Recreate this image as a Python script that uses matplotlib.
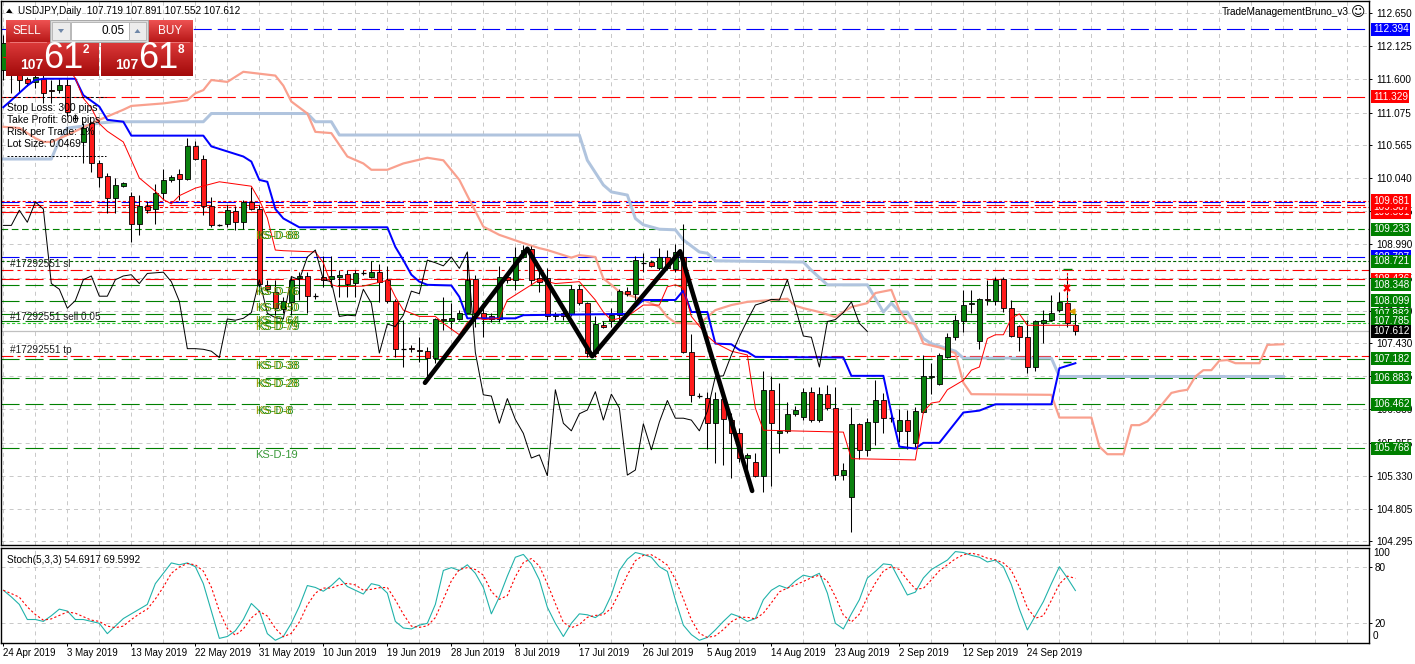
import numpy as np
import pandas as pd
import matplotlib
matplotlib.use("Agg")
import matplotlib.pyplot as plt
from matplotlib.patches import Rectangle, Polygon
from matplotlib.colors import LinearSegmentedColormap

plt.rcParams['font.family'] = ['Liberation Sans', 'DejaVu Sans']
plt.rcParams['lines.scale_dashes'] = False

# ---- USDJPY daily candles (24 Apr 2019 .. 2 Oct 2019, Sunday bars included) ----
opens = [111.75, 112.07, 111.75, 111.60, 111.56, 111.61, 111.43, 111.43, 111.51, 111.00,
         110.61, 110.91, 110.27, 110.07, 109.72, 109.92, 109.76, 109.32, 109.59, 109.55,
         109.81, 110.01, 110.10, 110.02, 110.55, 110.34, 109.60, 109.30, 109.32, 109.52,
         109.34, 109.66, 109.55, 108.35, 108.24, 107.96, 108.08, 108.45, 108.49, 108.18,
         108.47, 108.44, 108.48, 108.52, 108.38, 108.55, 108.48, 108.55, 108.43, 108.09,
         107.35, 107.35, 107.32, 107.31, 107.20, 107.81, 107.78, 107.81, 107.91, 108.44,
         107.90, 107.86, 107.81, 108.47, 108.43, 108.79, 108.91, 108.46, 108.45, 107.85,
         107.90, 107.89, 108.28, 108.06, 107.27, 107.72, 107.78, 107.87, 108.25, 108.21,
         108.71, 108.71, 108.61, 108.79, 108.60, 108.79, 107.28, 106.60, 106.56, 106.16,
         106.55, 106.21, 106.00, 105.61, 105.54, 105.33, 106.69, 106.00, 106.03, 106.31,
         106.26, 106.66, 106.21, 106.62, 106.40, 105.34, 105.00, 106.15, 105.73, 106.18,
         106.52, 106.25, 106.03, 106.21, 105.84, 106.34, 106.89, 106.78, 107.21, 107.52,
         107.77, 108.04, 107.46, 108.13, 108.10, 108.44, 107.99, 107.70, 107.52, 107.05,
         107.75, 107.80, 107.95, 108.06, 107.719]
highs = [112.30, 112.22, 111.91, 111.64, 111.75, 111.69, 111.59, 111.61, 111.61, 111.05,
         110.91, 110.93, 110.32, 110.12, 110.04, 109.98, 109.82, 109.77, 109.67, 109.95,
         110.19, 110.09, 110.19, 110.67, 110.63, 110.40, 109.74, 109.31, 109.61, 109.59,
         109.69, 109.90, 109.61, 108.43, 108.43, 108.16, 108.49, 108.56, 108.56, 108.22,
         108.80, 108.80, 108.58, 108.58, 108.58, 108.58, 108.72, 108.68, 108.64, 108.12,
         107.79, 107.40, 107.53, 107.37, 107.82, 108.15, 108.06, 107.95, 108.80, 108.51,
         108.03, 107.90, 108.64, 108.51, 108.95, 108.98, 108.96, 108.62, 108.61, 107.92,
         108.03, 108.35, 108.35, 108.08, 107.85, 107.77, 107.98, 108.29, 108.32, 108.80,
         108.85, 108.74, 108.93, 108.90, 108.99, 109.32, 107.57, 106.64, 106.66, 106.66,
         106.63, 106.32, 106.08, 105.69, 105.69, 106.98, 106.90, 106.79, 106.49, 106.43,
         106.72, 106.73, 106.74, 106.77, 106.74, 105.53, 106.42, 106.17, 106.24, 106.85,
         106.64, 106.32, 106.38, 106.37, 106.42, 107.24, 107.11, 107.27, 107.58, 107.87,
         108.27, 108.27, 108.14, 108.43, 108.48, 108.48, 108.11, 107.71, 107.79, 107.79,
         107.95, 108.19, 108.23, 108.49, 107.891]
lows = [111.59, 111.38, 111.38, 111.50, 111.46, 111.23, 111.23, 111.38, 111.02, 110.94,
        110.27, 110.14, 109.90, 109.49, 109.49, 109.90, 109.02, 109.14, 109.49, 109.32,
        109.69, 109.98, 109.69, 110.01, 110.33, 109.45, 109.27, 109.28, 109.27, 109.22,
        109.24, 109.53, 108.32, 108.24, 107.87, 107.90, 107.87, 108.11, 107.90, 108.13,
        108.32, 108.32, 108.16, 108.16, 108.16, 108.51, 108.45, 108.08, 108.06, 107.21,
        107.05, 107.29, 107.13, 106.85, 107.11, 107.64, 107.64, 107.79, 107.90, 107.69,
        107.53, 107.76, 107.76, 108.38, 108.27, 108.77, 108.35, 108.24, 107.79, 107.79,
        107.79, 107.85, 108.03, 107.21, 107.21, 107.66, 107.69, 107.79, 108.17, 108.11,
        108.56, 108.63, 108.58, 108.58, 108.55, 107.27, 106.50, 106.56, 105.76, 105.53,
        105.50, 105.29, 105.55, 105.26, 105.31, 105.08, 105.16, 105.69, 106.00, 106.27,
        106.21, 106.18, 106.18, 106.37, 105.26, 105.26, 104.44, 105.59, 105.64, 105.82,
        106.01, 106.18, 105.87, 105.76, 105.79, 106.32, 106.63, 106.77, 107.19, 107.48,
        107.61, 107.90, 107.33, 108.03, 108.03, 107.92, 107.53, 107.31, 106.95, 106.99,
        107.43, 107.77, 107.92, 107.69, 107.552]
closes = [112.18, 111.88, 111.59, 111.55, 111.64, 111.38, 111.41, 111.51, 111.09, 110.99,
          110.83, 110.27, 110.06, 109.72, 109.93, 109.96, 109.32, 109.59, 109.53, 109.81,
          110.01, 110.05, 110.02, 110.55, 110.34, 109.59, 109.29, 109.29, 109.53, 109.34,
          109.66, 109.55, 108.37, 108.28, 107.98, 108.10, 108.43, 108.49, 108.17, 108.17,
          108.43, 108.49, 108.51, 108.37, 108.53, 108.54, 108.55, 108.40, 108.09, 107.34,
          107.34, 107.33, 107.30, 107.20, 107.81, 107.79, 107.82, 107.91, 108.43, 107.90,
          107.83, 107.81, 108.48, 108.43, 108.79, 108.90, 108.43, 108.40, 107.85, 107.87,
          107.86, 108.28, 108.06, 107.27, 107.73, 107.69, 107.87, 108.25, 108.21, 108.74,
          108.70, 108.65, 108.79, 108.61, 108.87, 107.28, 106.61, 106.59, 106.16, 106.55,
          106.22, 106.00, 105.61, 105.66, 105.33, 106.69, 106.16, 106.04, 106.31, 106.37,
          106.66, 106.21, 106.62, 106.40, 105.34, 105.42, 106.15, 105.74, 106.18, 106.52,
          106.24, 106.24, 106.21, 106.04, 106.35, 106.90, 106.91, 107.24, 107.53, 107.79,
          108.03, 108.07, 108.12, 108.11, 108.43, 107.99, 107.54, 107.52, 107.05, 107.77,
          107.80, 107.91, 108.08, 107.74, 107.612]

# ---- Ichimoku lines (bar index, price) ----
tenkan_bar = [0, 8, 9, 10, 11, 12, 13, 15, 17, 19, 20, 21, 22, 24, 27, 31, 32, 33, 34, 35,
              39, 40, 41, 42, 45, 48, 49, 50, 52, 54, 55, 57, 58, 59, 60, 62, 63, 65, 67, 69,
              72, 74, 75, 76, 78, 80, 82, 83, 84, 85, 86, 88, 89, 91, 93, 94, 95, 105, 106, 114,
              115, 116, 117, 118, 120, 121, 122, 123, 124, 125, 126, 127, 128, 134]
tenkan_val = [111.95, 111.78, 111.62, 111.30, 111.15, 110.90, 110.78, 110.61, 110.04, 109.83,
              109.70, 109.63, 109.76, 109.88, 109.98, 109.91, 109.69, 109.41, 108.90, 108.89,
              108.87, 108.70, 108.35, 108.32, 108.33, 108.42, 108.16, 107.95, 107.85, 107.85,
              107.74, 107.56, 107.75, 107.85, 107.80, 107.82, 108.11, 108.27, 108.43, 108.37,
              108.40, 108.11, 107.92, 107.79, 107.85, 108.03, 108.03, 108.32, 108.35, 108.30,
              107.85, 107.54, 107.43, 107.30, 107.24, 106.40, 106.05, 106.02, 105.60, 105.58,
              106.34, 106.48, 106.50, 106.69, 106.84, 107.00, 107.05, 107.50, 107.56, 107.56,
              107.82, 107.89, 107.71, 107.71]
kijun_bar = [0, 1, 3, 4, 5, 9, 10, 12, 13, 15, 16, 25, 26, 28, 30, 31, 32, 33, 34, 35,
             37, 48, 49, 50, 51, 52, 53, 56, 57, 58, 64, 65, 78, 80, 84, 85, 86, 88, 89, 91,
             92, 93, 94, 105, 106, 110, 111, 112, 114, 115, 117, 120, 122, 124, 131, 132, 133, 134]
kijun_val = [111.16, 111.27, 111.50, 111.59, 111.61, 111.61, 111.35, 111.17, 110.96, 110.93,
             110.71, 110.71, 110.54, 110.46, 110.38, 110.30, 110.01, 109.98, 109.55, 109.40,
             109.26, 109.26, 108.95, 108.74, 108.51, 108.40, 108.35, 108.34, 108.16, 107.82,
             107.82, 107.87, 107.89, 108.11, 108.11, 108.26, 107.92, 107.92, 107.42, 107.41,
             107.32, 107.29, 107.21, 107.20, 106.91, 106.91, 106.32, 105.79, 105.76, 105.85,
             105.85, 106.33, 106.36, 106.46, 106.46, 107.03, 107.07, 107.11]
spanA_bar = [0, 2, 4, 5, 6, 8, 12, 15, 16, 20, 23, 24, 25, 26, 28, 30, 34, 35, 36, 38,
             39, 41, 43, 45, 46, 48, 50, 53, 55, 57, 58, 60, 62, 65, 67, 68, 71, 72, 74, 75,
             76, 77, 80, 82, 83, 84, 87, 88, 89, 91, 93, 98, 99, 100, 102, 104, 106, 108, 109, 111,
             112, 113, 114, 115, 117, 119, 120, 121, 131, 132, 136, 137, 138, 140, 141, 142, 143, 144, 146, 147,
             148, 149, 150, 151, 152, 153, 154, 157, 158, 160]
spanA_val = [110.85, 110.83, 110.67, 110.61, 110.61, 110.72, 110.96, 111.12, 111.18, 111.22,
             111.27, 111.38, 111.43, 111.59, 111.56, 111.72, 111.66, 111.50, 111.25, 111.06,
             110.77, 110.75, 110.38, 110.27, 110.17, 110.17, 110.27, 110.36, 110.32, 110.01,
             109.76, 109.27, 109.14, 109.01, 108.93, 108.90, 108.78, 108.82, 108.79, 108.45,
             108.35, 108.24, 108.11, 108.00, 107.84, 107.75, 107.73, 107.84, 107.95, 108.03,
             108.08, 108.13, 108.02, 107.98, 107.92, 107.84, 108.00, 108.06, 108.22, 108.27,
             107.95, 107.76, 107.73, 107.42, 107.36, 107.27, 106.80, 106.62, 106.61, 106.25,
             106.25, 105.79, 105.67, 105.67, 106.13, 106.13, 106.19, 106.33, 106.64, 106.67,
             106.69, 106.90, 107.00, 107.00, 107.15, 107.16, 107.11, 107.11, 107.40, 107.41]
spanB_bar = [0, 6, 7, 8, 10, 12, 14, 25, 26, 38, 39, 41, 42, 72, 73, 75, 76, 78, 79, 80,
             82, 84, 85, 87, 88, 89, 100, 101, 103, 108, 110, 111, 112, 113, 115, 116, 118, 119, 120, 131,
             132, 160]
spanB_val = [110.34, 110.34, 110.64, 110.83, 110.86, 110.91, 110.93, 110.93, 111.06, 111.06,
             110.93, 110.93, 110.72, 110.72, 110.32, 109.93, 109.82, 109.77, 109.40, 109.30,
             109.23, 109.22, 109.06, 108.87, 108.85, 108.73, 108.71, 108.58, 108.35, 108.35,
             107.92, 108.06, 107.92, 107.92, 107.50, 107.42, 107.34, 107.30, 107.19, 107.19,
             106.90, 106.90]
chikou_shift = 26

# ---- hand-drawn zigzag ----
zigzag_bar = [52.7, 65.5, 73.6, 84.6, 93.6]
zigzag_val = [106.80, 108.92, 107.22, 108.88, 105.09]

# ---- horizontal levels ----
level_price = [112.394, 111.329, 109.681, 109.655, 109.620, 109.587, 109.501, 109.233, 108.797, 108.721,
               108.584, 108.436, 108.348, 108.099, 107.882, 107.785, 107.745, 107.220, 107.182,
               106.883, 106.462, 105.768]
level_color = ['#0000ff', '#ff0000', '#ff0000', '#0000ff', '#ff0000', '#ff0000', '#ff0000', '#008000', '#0000ff', '#006400',
               '#ff0000', '#ff0000', '#008000', '#008000', '#008000', '#008000', '#32cd32', '#ff0000', '#008000',
               '#008000', '#008000', '#008000']
level_style = ['dash', 'dash', 'dot', 'dash', 'dash', 'dot', 'dash', 'mid', 'dash', 'dot',
               'dashdot', 'dash', 'dash', 'dash', 'dash', 'dash', 'dot', 'dashdot', 'dash',
               'dash', 'dash', 'dash']
current_price = 107.612

box_price = [112.394, 111.329, 109.501, 109.587, 109.681, 109.233, 108.797, 108.721, 108.436, 108.348,
             108.099, 107.882, 107.785, 107.612, 107.182, 106.883, 106.462, 105.768]
box_color = ['#0000ff', '#ff0000', '#ff0000', '#ff0000', '#ff0000', '#008000', '#0000ff', '#008000', '#ff0000', '#008000',
             '#008000', '#008000', '#008000', '#000000', '#008000', '#008000', '#008000', '#008000']

ks_text = ['KS-D-88', 'KS-D-76', 'KS-D-50', 'KS-D-64', 'KS-D-79', 'KS-D-38', 'KS-D-28', 'KS-D-8', 'KS-D-19']
ks_price = [109.233, 108.348, 108.099, 107.882, 107.785, 107.182, 106.883, 106.462, 105.768]

order_text = ['#17292551 sl', '#17292551 sell 0.05', '#17292551 tp']
order_price = [108.584, 107.745, 107.220]

price_ticks = [112.650, 112.125, 111.600, 111.075, 110.565, 110.040, 109.515, 108.990, 108.465,
               107.940, 107.430, 106.905, 106.380, 105.855, 105.330, 104.805, 104.295]

date_idx = [0, 8, 16, 24, 32, 40, 48, 56, 64, 72, 80, 88, 96, 104, 112, 120, 128]
date_lbl = ['24 Apr 2019', '3 May 2019', '13 May 2019', '22 May 2019', '31 May 2019', '10 Jun 2019',
            '19 Jun 2019', '28 Jun 2019', '8 Jul 2019', '17 Jul 2019', '26 Jul 2019', '5 Aug 2019',
            '14 Aug 2019', '23 Aug 2019', '2 Sep 2019', '12 Sep 2019', '24 Sep 2019']

# ---- Stochastic %K ----
stoch_k = [55, 48, 40, 24, 24, 22, 28, 35, 33, 24, 24, 22, 20, 9, 17, 25, 30, 35, 40, 62,
           73, 84, 82, 84, 80, 62, 33, 4, 6, 12, 24, 41, 33, 9, 2, 6, 20, 38, 60, 58,
           54, 60, 68, 59, 55, 51, 62, 60, 52, 22, 15, 14, 18, 20, 40, 76, 79, 76, 82, 73,
           58, 30, 48, 70, 90, 93, 83, 66, 37, 20, 6, 20, 30, 29, 26, 32, 50, 76, 88, 95,
           93, 90, 80, 75, 45, 18, 8, 2, 5, 13, 22, 30, 27, 22, 25, 45, 55, 60, 57, 65,
           71, 69, 73, 52, 20, 14, 30, 45, 68, 75, 83, 82, 66, 50, 53, 68, 77, 82, 87, 96,
           95, 92, 90, 85, 87, 80, 61, 35, 13, 28, 43, 62, 80, 68, 54.69]

DASH = {'dash': (0, (13, 4.3)), 'dot': (0, (2.2, 1.6)), 'mid': (0, (4.8, 2.6)),
        'dashdot': (0, (8.6, 2.9, 2.2, 2.9))}
GRID = dict(color='#c8c8c8', lw=0.7, linestyle=(0, (2.9, 2.9)))
PX = 0.72  # one pixel in points at 100 dpi

fig = plt.figure(figsize=(14.15, 6.64), dpi=100)
ax = fig.add_axes([1/1415, 119/664, 1368/1415, 544/664])
ax2 = fig.add_axes([1/1415, 21/664, 1368/1415, 95/664])

ax.set_xlim(-0.29, 170.7)
ax.set_ylim(104.234, 112.840)
ax2.set_xlim(-0.29, 170.7)
ax2.set_ylim(-0.9, 99.8)

# grid
ax.set_xticks(np.arange(0, 171, 4))
ax.set_yticks(price_ticks)
ax.set_yticklabels([f'{p:.3f}' for p in price_ticks])
ax.grid(True, **GRID)
ax.set_axisbelow(True)
ax.tick_params(axis='x', length=0, labelbottom=False)
ax.tick_params(axis='y', left=False, labelleft=False, right=True, labelright=True,
               length=2.2, width=0.7, pad=2.9, labelsize=7.2)
for s in ax.spines.values():
    s.set_linewidth(1.0)

# horizontal levels
for p, c, st in zip(level_price, level_color, level_style):
    ax.axhline(p, color=c, lw=0.8, linestyle=DASH[st], zorder=1.5)
ax.axhline(current_price, color='#c0c0c0', lw=0.9, zorder=1.4)

# candles
o, h, l, c = map(np.array, (opens, highs, lows, closes))
x = np.arange(len(o))
up = c >= o
body_lo = np.minimum(o, c)
body_h = np.abs(c - o)
doji = body_h < 0.012
ax.vlines(x, l, h, color='black', lw=0.75, zorder=3)
ax.bar(x[~doji], body_h[~doji], bottom=body_lo[~doji], width=0.64,
       color=np.where(up, '#0a800e', '#ff1a1a')[~doji], edgecolor='black', lw=0.6, zorder=3.2)
ax.hlines(c[doji], x[doji] - 0.34, x[doji] + 0.34, color='black', lw=0.9, zorder=3.2)

# Ichimoku
ax.plot(spanB_bar, spanB_val, color='#b0c4de', lw=3 * PX, zorder=2.5, solid_joinstyle='round')
ax.plot(spanA_bar, spanA_val, color='#f9a08e', lw=2.2 * PX, zorder=2.6)
ax.plot(kijun_bar, kijun_val, color='#0000ff', lw=2 * PX, zorder=3.5)
ax.plot(tenkan_bar, tenkan_val, color='#ff0000', lw=1 * PX, zorder=3.6)
ax.plot(x[chikou_shift:] - chikou_shift, c[chikou_shift:], color='black', lw=1 * PX, zorder=3.6)

# zigzag
ax.plot(zigzag_bar, zigzag_val, color='black', lw=3.3, zorder=5,
        solid_capstyle='round', solid_joinstyle='round')

# trade markers on the last bars
ax.vlines(133, 108.06, 108.58, color='#ff0000', lw=0.8, linestyle=(0, (2, 2)), zorder=4)
ax.hlines(108.60, 132.5, 133.6, color='#008000', lw=1.0, zorder=4)
ax.hlines(107.13, 132.5, 133.4, color='#008000', lw=1.0, zorder=4)
ax.plot([133], [108.30], marker='x', color='#ff0000', ms=4, mew=1.6, zorder=6)
ax.plot([133.6], [107.93], marker='<', color='#e0a000', ms=3.5, zorder=6)

# KS labels
for t, p in zip(ks_text, ks_price):
    if t == 'KS-D-19':
        ax.text(31.5, p - 0.03, t, color='#3a9a3a', fontsize=8, va='top', ha='left', zorder=6)
    else:
        ax.text(31.5, p - 0.03, t, color='#9a9a00', fontsize=8, va='top', ha='left', zorder=6)
        ax.text(31.75, p - 0.03, t, color='#008000', fontsize=8, va='top', ha='left',
                zorder=6.1, alpha=0.85)

for t, p in zip(order_text, order_price):
    ax.text(0.85, p + 0.02, t, color='#202020', fontsize=7.2, va='bottom', ha='left', zorder=6)

# right side price boxes
ytr = ax.get_yaxis_transform()
for k, (p, col) in enumerate(zip(box_price, box_color)):
    ax.text(1.0029, p, f'{p:.3f}', transform=ytr, color='white', fontsize=7.2, va='center', ha='left',
            bbox=dict(boxstyle='square,pad=0.15', fc=col, ec='none'), zorder=10 + k, clip_on=False)

# ---- stochastic panel ----
kser = pd.Series(stoch_k, dtype=float)
dser = kser.rolling(3, min_periods=1).mean()
ax2.set_xticks(np.arange(0, 171, 4), minor=True)
ax2.set_xticks(date_idx)
ax2.set_xticklabels(date_lbl, ha='left', fontsize=7)
ax2.grid(True, which='minor', axis='x', **GRID)
ax2.axhline(80, **GRID, zorder=0.5)
ax2.axhline(20, **GRID, zorder=0.5)
ax2.set_axisbelow(True)
ax2.tick_params(axis='x', which='major', length=2.2, width=0.7, pad=1.2)
ax2.tick_params(axis='x', which='minor', length=0)
ax2.set_yticks([80, 20])
ax2.set_yticklabels(['80', '20'])
ax2.tick_params(axis='y', left=False, labelleft=False, right=True, labelright=True,
                length=2.2, width=0.7, pad=2.0, labelsize=7.2)
ytr2 = ax2.get_yaxis_transform()
ax2.text(1.003, 94.5, '100', transform=ytr2, fontsize=7.2, va='center', ha='left', clip_on=False)
ax2.text(1.003, 6.5, '0', transform=ytr2, fontsize=7.2, va='center', ha='left', clip_on=False)
ax2.plot(x, kser, color='#20b2aa', lw=1.1 * PX, zorder=3)
ax2.plot(x, dser, color='#ff0000', lw=1.1 * PX, linestyle=(0, (1.6, 1.6)), zorder=3)
ax2.text(0.0045, 0.93, 'Stoch(5,3,3) 54.6917 69.5992', transform=ax2.transAxes, fontsize=7.2,
         va='top', ha='left')
for s in ax2.spines.values():
    s.set_linewidth(1.0)

# ---- terminal overlay (trade panel, captions) ----
ui = fig.add_axes([0, 0, 1, 1], zorder=10)
ui.axis('off')


def grad_box(x0, y0, x1, y1, c_top, c_bot):
    cmap = LinearSegmentedColormap.from_list('g', [c_top, c_bot])
    ui.imshow(np.linspace(0, 1, 64).reshape(-1, 1), cmap=cmap, aspect='auto',
              extent=(x0, x1, y1, y0), zorder=2, interpolation='bilinear')


grad_box(6, 20, 50, 42, '#ee5252', '#b81818')
grad_box(148, 20, 193, 42, '#ee5252', '#b81818')
grad_box(6, 42, 99, 76, '#dc3a3a', '#a30a0a')
grad_box(101, 42, 193, 76, '#dc3a3a', '#a30a0a')
ui.add_patch(Rectangle((50, 20), 98, 22, fc='#dcdcdc', ec='#a8a8a8', lw=0.7, zorder=2))
ui.add_patch(Rectangle((71, 22), 58, 18, fc='white', ec='#b8b8b8', lw=0.7, zorder=3))
ui.add_patch(Rectangle((52, 22), 18, 18, fc='#ececec', ec='#b8b8b8', lw=0.7, zorder=3))
ui.add_patch(Rectangle((129, 22), 17, 18, fc='#ececec', ec='#b8b8b8', lw=0.7, zorder=3))
ui.add_patch(Polygon([[58, 29], [64, 29], [61, 33]], fc='#6f87a8', ec='none', zorder=4))
ui.add_patch(Polygon([[134.5, 33], [140.5, 33], [137.5, 29]], fc='#6f87a8', ec='none', zorder=4))
ui.plot([10, 46], [41.5, 41.5], color='#f08080', lw=0.6, zorder=4)
ui.plot([152, 189], [41.5, 41.5], color='#f08080', lw=0.6, zorder=4)
ui.text(27, 31, 'SELL', color='white', fontsize=8.5, ha='center', va='center', zorder=5)
ui.text(170, 31, 'BUY', color='white', fontsize=8.5, ha='center', va='center', zorder=5)
ui.text(125, 31, '0.05', color='black', fontsize=8.5, ha='right', va='center', zorder=5)
for x0, sup in [(0, '2'), (95, '8')]:
    ui.text(32 + x0, 65, '107', color='white', fontsize=10, fontweight='bold', ha='center', va='center', zorder=5)
    ui.text(63 + x0, 58, '61', color='white', fontsize=26, ha='center', va='center', zorder=5)
    ui.text(86 + x0, 50, sup, color='white', fontsize=8.5, fontweight='bold', ha='center', va='center', zorder=5)

ui.add_patch(Polygon([[6, 13], [12.5, 13], [9.25, 8.5]], fc='black', ec='none', zorder=5))
ui.text(18, 11, 'USDJPY,Daily  107.719 107.891 107.552 107.612', fontsize=7.2, va='center', ha='left', zorder=5)
info = ['Stop Loss: 300 pips', 'Take Profit: 600 pips', 'Risk per Trade: 1%', 'Lot Size: 0.0469']
for k, s in enumerate(info):
    ui.text(7, 108 + 12 * k, s, fontsize=7.4, va='center', ha='left', zorder=5)
ui.plot([3, 106], [96.5, 96.5], color='black', lw=0.7, linestyle=(0, (2, 1.5)), zorder=5)
ui.plot([7, 106], [156, 156], color='black', lw=0.7, linestyle=(0, (1.5, 1.2)), zorder=5)
ui.text(1349, 12, 'TradeManagementBruno_v3', fontsize=7.2, va='center', ha='right', zorder=5)
ui.text(1358, 12, '\u263a', fontsize=10, va='center', ha='center', zorder=5, family='DejaVu Sans')

ui.set_xlim(0, 1415)
ui.set_ylim(664, 0)

fig.savefig('out.png', dpi=100)
